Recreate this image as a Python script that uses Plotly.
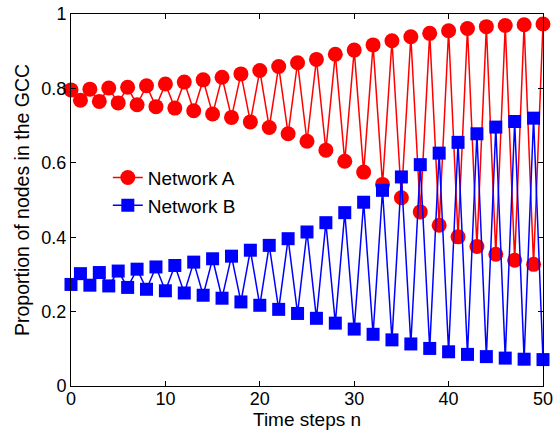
import plotly.graph_objects as go

steps = list(range(0, 51))
network_a = [0.796, 0.768, 0.798, 0.765, 0.801, 0.761, 0.803, 0.756, 0.807, 0.751,
             0.812, 0.747, 0.817, 0.740, 0.823, 0.731, 0.830, 0.722, 0.839, 0.710,
             0.848, 0.695, 0.859, 0.678, 0.869, 0.658, 0.878, 0.634, 0.892, 0.604,
             0.903, 0.575, 0.917, 0.542, 0.928, 0.506, 0.939, 0.468, 0.948, 0.432,
             0.955, 0.401, 0.961, 0.375, 0.966, 0.354, 0.969, 0.338, 0.971, 0.327,
             0.973]
network_b = [0.273, 0.302, 0.271, 0.305, 0.269, 0.309, 0.265, 0.314, 0.260, 0.320,
             0.256, 0.324, 0.250, 0.333, 0.244, 0.342, 0.236, 0.349, 0.226, 0.365,
             0.217, 0.378, 0.206, 0.396, 0.195, 0.414, 0.182, 0.439, 0.169, 0.466,
             0.153, 0.494, 0.139, 0.526, 0.124, 0.562, 0.113, 0.595, 0.101, 0.626,
             0.092, 0.655, 0.085, 0.678, 0.079, 0.696, 0.075, 0.711, 0.072, 0.720,
             0.071]
x_ticks = [0, 10, 20, 30, 40, 50]
y_ticks = [0, 0.2, 0.4, 0.6, 0.8, 1]
y_tick_labels = ["0", "0.2", "0.4", "0.6", "0.8", "1"]
x_title = "Time steps n"
y_title = "Proportion of nodes in the GCC"

FONT = "Liberation Sans, Arial, sans-serif"

fig = go.Figure()
fig.add_trace(go.Scatter(
    x=steps, y=network_a, name="Network A", mode="lines+markers",
    line=dict(color="#ff0000", width=1.5),
    marker=dict(symbol="circle", size=15, color="#ff0000"),
    cliponaxis=False,
))
fig.add_trace(go.Scatter(
    x=steps, y=network_b, name="Network B", mode="lines+markers",
    line=dict(color="#0000ff", width=1.5),
    marker=dict(symbol="square", size=13, color="#0000ff"),
    cliponaxis=False,
))

axis_common = dict(
    showline=True, linecolor="black", linewidth=1, mirror="ticks",
    ticks="inside", ticklen=5, tickcolor="black", tickwidth=1,
    showgrid=False, zeroline=False, automargin=False,
    tickfont=dict(family=FONT, size=18, color="black"),
)

fig.update_layout(
    width=557, height=435,
    margin=dict(l=71, r=14, t=14, b=49, autoexpand=False),
    paper_bgcolor="white", plot_bgcolor="white",
    font=dict(family=FONT, color="black"),
    showlegend=True,
    legend=dict(
        x=0.078, y=0.611, xanchor="left", yanchor="top",
        bgcolor="rgba(0,0,0,0)", borderwidth=0,
        font=dict(family=FONT, size=19, color="black"),
    ),
    xaxis=dict(range=[0, 50], tickvals=x_ticks, ticklabelstandoff=-4, **axis_common),
    yaxis=dict(range=[0, 1], tickvals=y_ticks, ticktext=y_tick_labels, **axis_common),
    annotations=[
        dict(text=x_title, xref="paper", yref="paper", x=0.5, y=0,
             yshift=-33, xanchor="center", yanchor="middle", showarrow=False,
             font=dict(family=FONT, size=19, color="black")),
        dict(text=y_title, xref="paper", yref="paper", x=0, y=0.5,
             xshift=-49, xanchor="center", yanchor="middle", textangle=-90,
             showarrow=False, font=dict(family=FONT, size=19.5, color="black")),
    ],
)

fig.write_html("out.html", config={"displayModeBar": False},
               post_script="document.body.style.margin='0';")
